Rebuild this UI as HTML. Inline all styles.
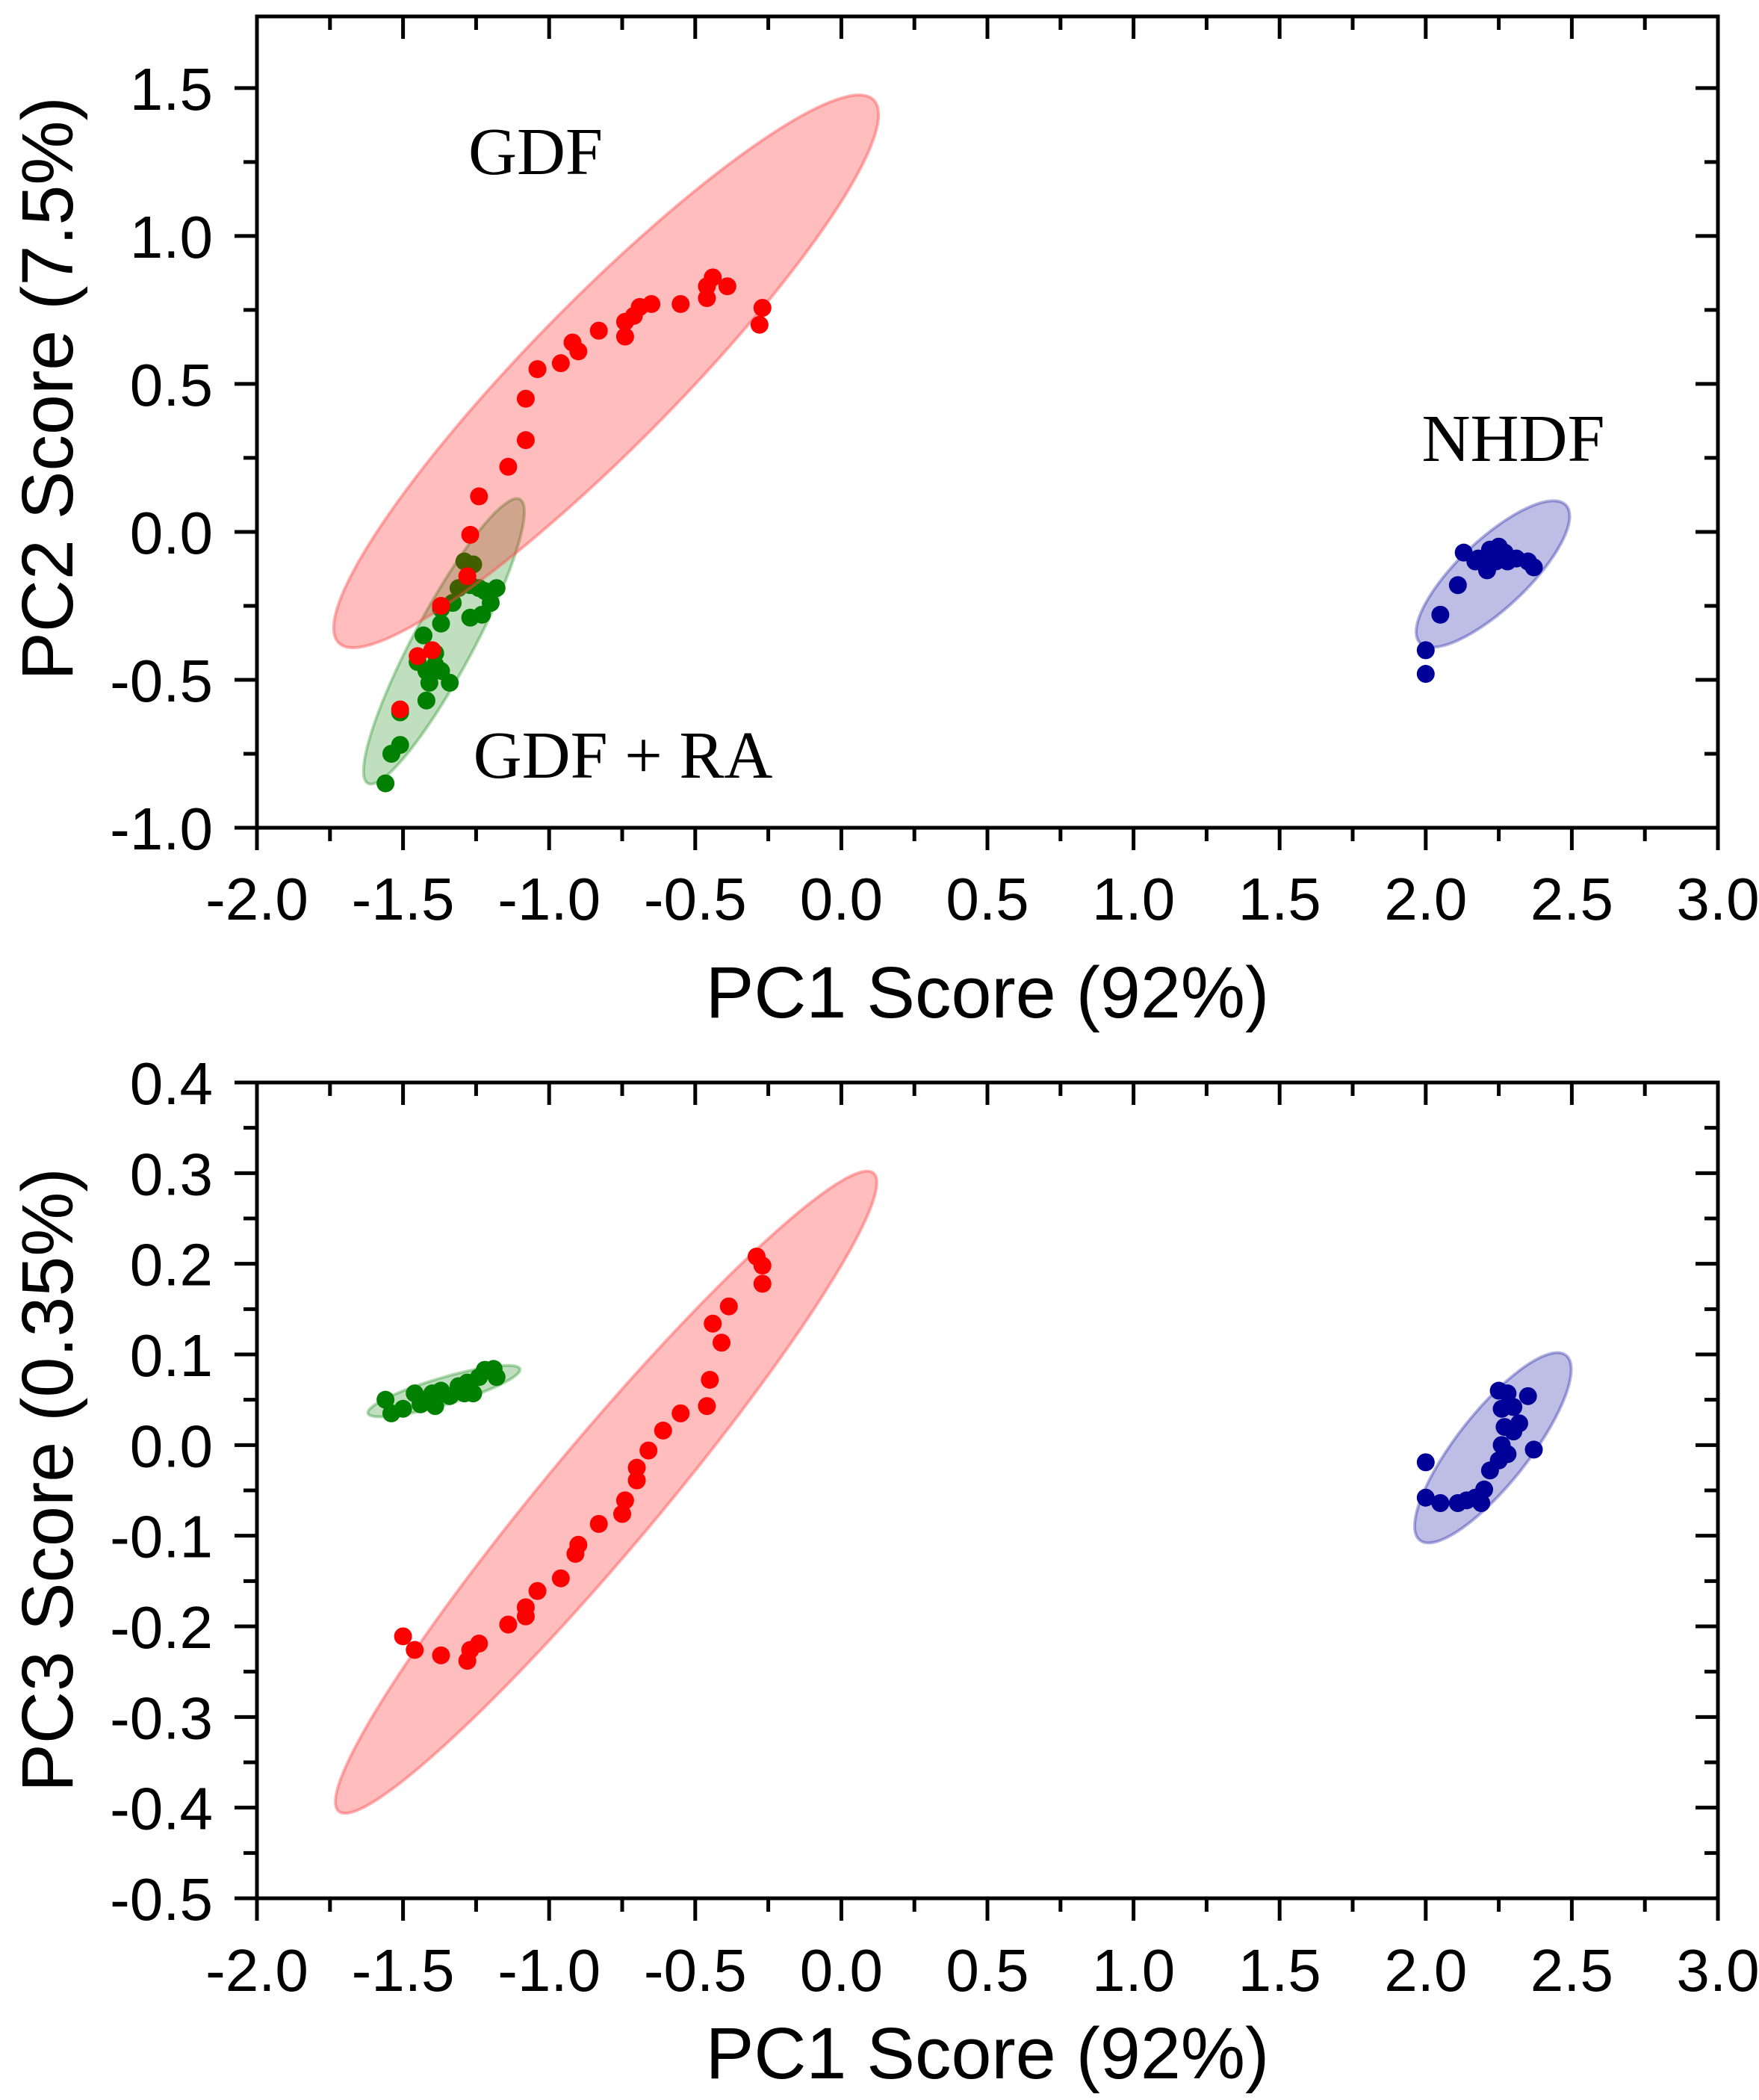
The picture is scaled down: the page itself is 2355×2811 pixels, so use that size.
<!DOCTYPE html>
<html><head><meta charset="utf-8"><style>
html,body{margin:0;padding:0;background:#fff;}
svg{display:block;}
.tk{font-family:"Liberation Sans",sans-serif;font-size:80px;fill:#000;}
.ttl{font-family:"Liberation Sans",sans-serif;font-size:97px;fill:#000;}
.lbl{font-family:"Liberation Serif",serif;font-size:90px;fill:#000;}
</style></head><body>
<svg id="chart" width="2355" height="2811" viewBox="0 0 2355 2811" xmlns="http://www.w3.org/2000/svg"></svg>
<script>
// ---- Data: top panel (PC1 vs PC2) ----
const gdfX1 = [-0.27,-0.28,-0.39,-0.44,-0.46,-0.46,-0.55,-0.65,-0.69,-0.71,-0.74,-0.74,-0.83,-0.90,-0.92,-0.96,-1.04,-1.08,-1.08,-1.14,-1.24,-1.27,-1.28,-1.37,-1.51,-1.40,-1.45];
const gdfY1 = [0.757,0.70,0.83,0.86,0.83,0.79,0.77,0.77,0.76,0.73,0.71,0.66,0.68,0.61,0.64,0.57,0.55,0.45,0.31,0.22,0.12,-0.01,-0.15,-0.25,-0.60,-0.40,-0.42];
const raX1 = [-1.56,-1.54,-1.51,-1.51,-1.42,-1.42,-1.39,-1.37,-1.34,-1.45,-1.41,-1.43,-1.37,-1.37,-1.39,-1.31,-1.27,-1.24,-1.29,-1.26,-1.22,-1.20,-1.18,-1.23,-1.27,-1.33];
const raY1 = [-0.85,-0.75,-0.72,-0.61,-0.57,-0.47,-0.45,-0.47,-0.51,-0.44,-0.51,-0.35,-0.31,-0.26,-0.41,-0.19,-0.18,-0.19,-0.10,-0.11,-0.20,-0.24,-0.19,-0.28,-0.29,-0.24];
const nhX1 = [2.0,2.0,2.05,2.11,2.13,2.17,2.20,2.22,2.25,2.27,2.28,2.31,2.35,2.37,2.21,2.18,2.24];
const nhY1 = [-0.40,-0.48,-0.28,-0.18,-0.07,-0.10,-0.09,-0.06,-0.05,-0.07,-0.10,-0.09,-0.10,-0.12,-0.13,-0.09,-0.10];
// ellipse tips [x1,y1,x2,y2] in data units
const gdfEll1 = [-1.72,-0.375,0.11,1.46];
const raEll1 = [-1.62,-0.85,-1.10,0.11];
const nhEll1 = [1.98,-0.375,2.48,0.09];
// ---- Data: bottom panel (PC1 vs PC3) ----
const gdfX2 = [-0.29,-0.27,-0.27,-0.385,-0.44,-0.41,-0.45,-0.46,-0.55,-0.61,-0.66,-0.70,-0.70,-0.74,-0.75,-0.83,-0.90,-0.91,-0.96,-1.04,-1.08,-1.08,-1.14,-1.24,-1.27,-1.28,-1.37,-1.46,-1.50];
const gdfY2 = [0.208,0.198,0.178,0.153,0.134,0.113,0.072,0.043,0.035,0.016,-0.006,-0.025,-0.039,-0.061,-0.076,-0.087,-0.110,-0.120,-0.147,-0.161,-0.179,-0.189,-0.198,-0.219,-0.226,-0.238,-0.232,-0.226,-0.211];
const raX2 = [-1.56,-1.54,-1.50,-1.46,-1.42,-1.40,-1.39,-1.37,-1.34,-1.31,-1.29,-1.28,-1.26,-1.24,-1.22,-1.19,-1.18,-1.44];
const raY2 = [0.05,0.035,0.04,0.057,0.05,0.057,0.043,0.06,0.054,0.065,0.057,0.069,0.057,0.075,0.083,0.084,0.075,0.045];
const nhX2 = [2.0,2.0,2.05,2.11,2.14,2.17,2.19,2.20,2.22,2.25,2.26,2.27,2.26,2.25,2.28,2.30,2.32,2.30,2.35,2.37,2.28];
const nhY2 = [-0.019,-0.058,-0.064,-0.064,-0.061,-0.058,-0.064,-0.049,-0.028,-0.017,0.0,0.02,0.04,0.06,0.057,0.042,0.024,0.015,0.054,-0.005,-0.01];
const gdfEll2 = [-1.72,-0.404,0.11,0.30];
const raEll2 = [-1.62,0.035,-1.10,0.084];
const nhEll2 = [1.98,-0.105,2.48,0.099];
// tick labels
const xTickVals = [-2.0,-1.5,-1.0,-0.5,0.0,0.5,1.0,1.5,2.0,2.5,3.0];
const yTickVals1 = [-1.0,-0.5,0.0,0.5,1.0,1.5];
const yTickVals2 = [-0.5,-0.4,-0.3,-0.2,-0.1,0.0,0.1,0.2,0.3,0.4];

const NS = "http://www.w3.org/2000/svg";
const svg = document.getElementById('chart');
function mk(tag, attrs, parent){ const e=document.createElementNS(NS,tag); for(const k in attrs) e.setAttribute(k,attrs[k]); (parent||svg).appendChild(e); return e; }

const L=344, R=2300;
const xPx = v => L + (v+2)*(R-L)/5;

function panel(cfg){
  const g = mk('g',{});
  
  
  const T=cfg.top, B=cfg.bottom;
  const yPx = v => T + (cfg.ymax - v)*(B-T)/(cfg.ymax-cfg.ymin);
  function ell(tips, hw, fill, stroke, name){
    const x1=xPx(tips[0]), y1=yPx(tips[1]), x2=xPx(tips[2]), y2=yPx(tips[3]);
    const cx=(x1+x2)/2, cy=(y1+y2)/2, rx=Math.hypot(x2-x1,y2-y1)/2;
    const ang=Math.atan2(y2-y1,x2-x1)*180/Math.PI;
    const e=mk('ellipse',{cx:cx,cy:cy,rx:rx,ry:hw,fill:fill,stroke:stroke,'stroke-width':4,transform:`rotate(${ang} ${cx} ${cy})`},g);
    
    
  }
  function pts(xs, ys, col, name){
    for(let i=0;i<xs.length;i++){
      const c=mk('circle',{cx:xPx(xs[i]),cy:yPx(ys[i]),r:12,fill:col},g);
      
      
    }
  }
  ell(cfg.raEll, cfg.raHW, 'rgba(0,128,0,0.25)', 'rgba(0,128,0,0.3)', 'gdf-ra-ellipse');
  pts(cfg.raX, cfg.raY, '#008000', 'gdf-ra-point');
  ell(cfg.gdfEll, cfg.gdfHW, 'rgba(255,0,0,0.26)', 'rgba(255,80,80,0.45)', 'gdf-ellipse');
  pts(cfg.gdfX, cfg.gdfY, '#ff0000', 'gdf-point');
  ell(cfg.nhEll, cfg.nhHW, 'rgba(0,0,153,0.26)', 'rgba(0,0,153,0.3)', 'nhdf-ellipse');
  pts(cfg.nhX, cfg.nhY, '#000099', 'nhdf-point');
  const fr=mk('rect',{x:L,y:T,width:R-L,height:B-T,fill:'none',stroke:'#000','stroke-width':5},g);
  
  
  for(let v=-2; v<=3.001; v+=0.25){
    const major = Math.abs(v*2-Math.round(v*2))<1e-6;
    const len = major?30:18, x=xPx(v);
    mk('line',{x1:x,y1:B,x2:x,y2:B+len,stroke:'#000','stroke-width':5},g);
    mk('line',{x1:x,y1:T,x2:x,y2:T+len,stroke:'#000','stroke-width':5},g);
  }
  xTickVals.forEach(v=>{
    const t=mk('text',{x:xPx(v),y:cfg.xlabY,'text-anchor':'middle',class:'tk'},g);
    t.textContent=v.toFixed(1);
    
    
  });
  const st=cfg.ystep/2;
  for(let k=0; cfg.ymin+k*st<=cfg.ymax+1e-9; k++){
    const v=cfg.ymin+k*st, y=yPx(v), major=k%2===0, len=major?30:18;
    mk('line',{x1:L,y1:y,x2:L-len,y2:y,stroke:'#000','stroke-width':5},g);
    mk('line',{x1:R,y1:y,x2:R-len,y2:y,stroke:'#000','stroke-width':5},g);
  }
  cfg.yTicks.forEach(v=>{
    const t=mk('text',{x:285,y:yPx(v)+29,'text-anchor':'end',class:'tk'},g);
    t.textContent=v.toFixed(1);
    
    
  });
  const xt=mk('text',{x:(L+R)/2,y:cfg.xTitleY,'text-anchor':'middle',class:'ttl'},g);
  xt.textContent='PC1 Score (92%)';
  
  
  const ycy=cfg.yTitleCY;
  const yt=mk('text',{x:97,y:ycy,'text-anchor':'middle',class:'ttl',transform:`rotate(-90 97 ${ycy})`},g);
  yt.textContent=cfg.yTitle;
  
  
  return g;
}

panel({name:'pc2-panel',top:22,bottom:1108,ymin:-1.0,ymax:1.742,ystep:0.5,yTicks:yTickVals1,
  xlabY:1231,xTitleY:1362,yTitleCY:520,yTitle:'PC2 Score (7.5%)',
  gdfX:gdfX1,gdfY:gdfY1,raX:raX1,raY:raY1,nhX:nhX1,nhY:nhY1,
  gdfEll:gdfEll1,gdfHW:98,raEll:raEll1,raHW:40,nhEll:nhEll1,nhHW:46});
panel({name:'pc3-panel',top:1449,bottom:2541,ymin:-0.5,ymax:0.4,ystep:0.1,yTicks:yTickVals2,
  xlabY:2665,xTitleY:2782,yTitleCY:1981,yTitle:'PC3 Score (0.35%)',
  gdfX:gdfX2,gdfY:gdfY2,raX:raX2,raY:raY2,nhX:nhX2,nhY:nhY2,
  gdfEll:gdfEll2,gdfHW:74,raEll:raEll2,raHW:18,nhEll:nhEll2,nhHW:48});

[['GDF',717,233,'gdf-label'],['GDF + RA',834,1041,'gdf-ra-label'],['NHDF',2026,617,'nhdf-label']].forEach(a=>{
  const t=mk('text',{x:a[1],y:a[2],'text-anchor':'middle',class:'lbl'});
  t.textContent=a[0];
  
  
});
</script>
</body></html>
